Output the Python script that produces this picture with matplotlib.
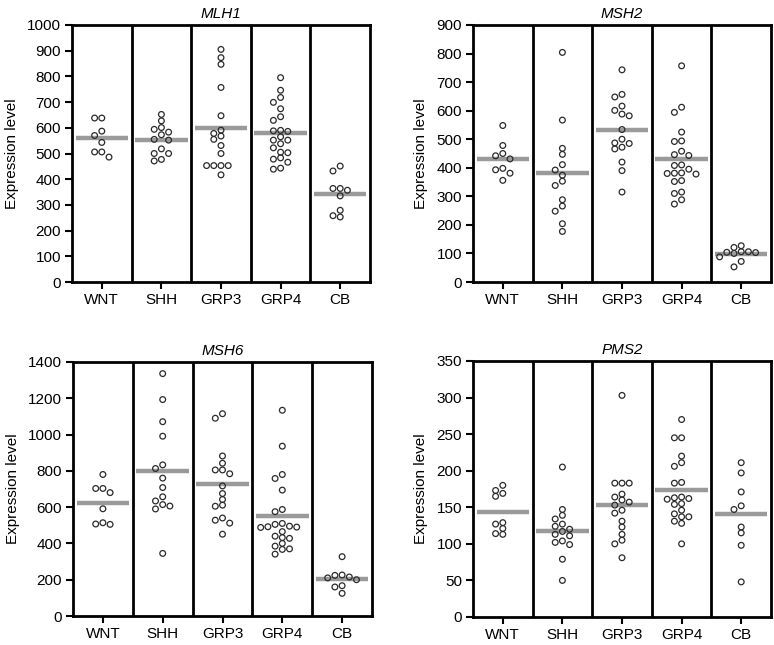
import numpy as np
import matplotlib
matplotlib.use("Agg")
import matplotlib.pyplot as plt

plt.rcParams['font.family'] = ['Liberation Sans', 'DejaVu Sans']

groups = ["WNT", "SHH", "GRP3", "GRP4", "CB"]

# MLH1
mlh1_wnt = [638, 638, 587, 570, 543, 506, 506, 486]
mlh1_shh = [652, 627, 601, 594, 583, 573, 555, 552, 518, 500, 500, 477, 471]
mlh1_grp3 = [905, 873, 847, 757, 647, 591, 578, 568, 555, 531, 500, 453, 453, 453, 453, 417]
mlh1_grp4 = [795, 746, 718, 699, 674, 643, 629, 590, 588, 586, 565, 552, 552, 538, 522,
             505, 503, 483, 478, 466, 443, 439]
mlh1_cb = [451, 432, 364, 364, 357, 335, 279, 258, 253]

# MSH2
msh2_wnt = [548, 478, 450, 442, 431, 398, 393, 381, 356]
msh2_shh = [804, 567, 468, 447, 411, 392, 374, 353, 338, 288, 266, 248, 204, 177]
msh2_grp3 = [743, 657, 648, 616, 601, 588, 582, 534, 500, 487, 485, 472, 466, 420, 390, 315]
msh2_grp4 = [757, 612, 594, 525, 494, 492, 458, 446, 443, 410, 408, 395, 382, 381, 380,
             378, 355, 352, 315, 310, 288, 273]
msh2_cb = [127, 121, 106, 106, 104, 103, 100, 88, 72, 53]

# MSH6
msh6_wnt = [780, 703, 703, 680, 591, 514, 507, 505]
msh6_shh = [1336, 1193, 1071, 991, 833, 813, 760, 708, 657, 634, 614, 606, 590, 345]
msh6_grp3 = [1115, 1090, 882, 842, 805, 805, 784, 717, 675, 642, 611, 605, 540, 528, 512, 451]
msh6_grp4 = [1134, 936, 780, 758, 694, 587, 575, 510, 505, 495, 492, 490, 488, 465, 440,
             432, 428, 400, 385, 370, 367, 341]
msh6_cb = [327, 226, 224, 215, 210, 200, 167, 160, 125]

# PMS2
pms2_wnt = [180, 173, 169, 165, 129, 127, 121, 114, 113]
pms2_shh = [205, 147, 139, 134, 127, 124, 120, 117, 113, 111, 104, 102, 99, 79, 50]
pms2_grp3 = [303, 183, 183, 183, 168, 164, 160, 157, 153, 146, 142, 131, 123, 113, 105, 100, 81]
pms2_grp4 = [270, 245, 245, 220, 211, 206, 184, 183, 164, 163, 162, 161, 155, 154, 146,
             141, 137, 137, 131, 128, 100]
pms2_cb = [211, 197, 171, 152, 147, 123, 115, 98, 48]

panels = [
    ("MLH1", [mlh1_wnt, mlh1_shh, mlh1_grp3, mlh1_grp4, mlh1_cb], 1000, 100),
    ("MSH2", [msh2_wnt, msh2_shh, msh2_grp3, msh2_grp4, msh2_cb], 900, 100),
    ("MSH6", [msh6_wnt, msh6_shh, msh6_grp3, msh6_grp4, msh6_cb], 1400, 200),
    ("PMS2", [pms2_wnt, pms2_shh, pms2_grp3, pms2_grp4, pms2_cb], 350, 50),
]

W, H = 774, 645
fig = plt.figure(figsize=(W / 100, H / 100), dpi=100)

boxes = [
    (72, 370, 25, 282),
    (473, 771, 25, 282),
    (73, 372, 362, 616),
    (473, 771, 361, 617),
]


def swarm(vals, py, d=7.2, dmin=5.6):
    vals = np.asarray(vals, float)
    order = np.argsort(-vals, kind="stable")
    placed = []
    offs = np.zeros(len(vals))
    cands = [0]
    for k in range(1, 8):
        cands += [-k, k]
    for i in order:
        y = vals[i] * py
        for k in cands:
            x = k * d
            ok = all((x - px) ** 2 + (y - pyy) ** 2 >= dmin ** 2 for px, pyy in placed)
            if ok:
                break
        placed.append((x, y))
        offs[i] = x
    return offs


for (title, data, ymax, step), (l, r, t, b) in zip(panels, boxes):
    ax = fig.add_axes([l / W, 1 - b / H, (r - l) / W, (b - t) / H])
    ax.set_xlim(-0.5, 4.5)
    ax.set_ylim(0, ymax)
    py = (b - t) / ymax
    px_per_x = (r - l) / 5.0
    for i, vals in enumerate(data):
        offs = swarm(vals, py)
        ax.hlines(np.mean(vals), i - 0.44, i + 0.44, color="#9a9a9a", lw=3.2, zorder=2)
        ax.scatter(i + offs / px_per_x, vals, s=17, facecolors="none",
                   edgecolors="#2a2a2a", linewidths=0.9, zorder=3)
    for xs in [0.5, 1.5, 2.5, 3.5]:
        ax.axvline(xs, color="black", lw=2.0, zorder=4)
    for sp in ax.spines.values():
        sp.set_linewidth(2.0)
        sp.set_color("black")
        sp.set_zorder(5)
    ax.set_xticks(range(5))
    ax.set_xticklabels(groups)
    ax.set_yticks(np.arange(0, ymax + 1, step))
    ax.tick_params(axis="both", direction="out", length=5, width=1.5,
                   labelsize=11, colors="black", pad=3)
    ax.set_ylabel("Expression level", fontsize=11, labelpad=6)
    ax.set_title(title, fontsize=11, style="italic", pad=5)

fig.savefig("out.png", dpi=100)
